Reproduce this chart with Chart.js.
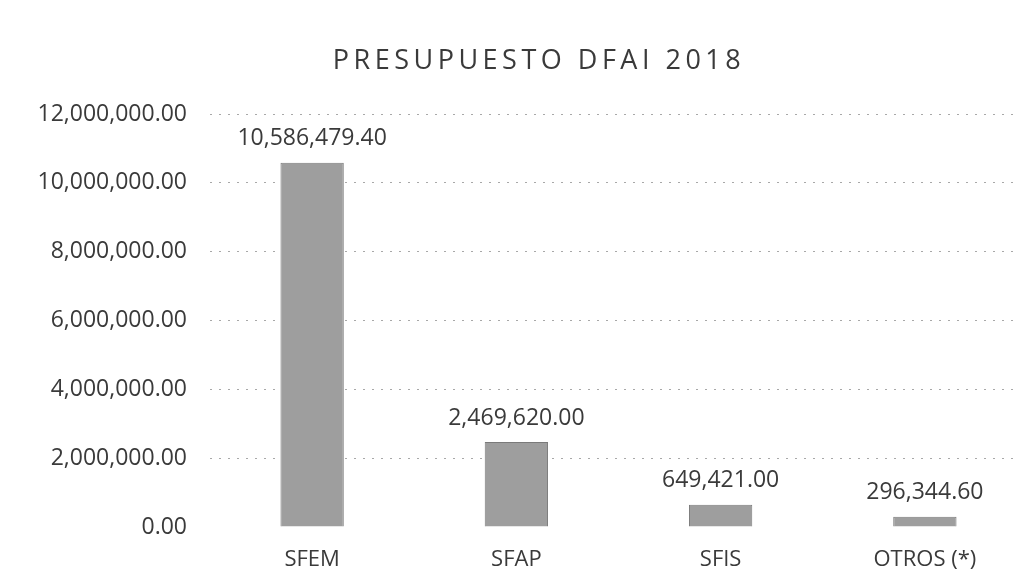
<!DOCTYPE html>
<html>
<head>
<meta charset="utf-8">
<script src="https://cdn.jsdelivr.net/npm/chart.js@4/dist/chart.umd.min.js"></script>
<style>
  html, body { margin: 0; padding: 0; background: #ffffff; overflow: hidden; }
  #wrap { width: 1016px; height: 569px; overflow: hidden; position: relative; background: #fff; }
  canvas { display: block; }
</style>
</head>
<body>
<div id="wrap"><canvas id="c" width="1078" height="569"></canvas></div>
<script>
// ---- data ----
const chartTitle = "PRESUPUESTO DFAI 2018";
const categories = ["SFEM", "SFAP", "SFIS", "OTROS (*)"];
const budgetValues = [10586479.40, 2469620.00, 649421.00, 296344.60];
const yTickValues = [0, 2000000, 4000000, 6000000, 8000000, 10000000, 12000000];

const fmt = v => Number(v).toLocaleString("en-US", { minimumFractionDigits: 2, maximumFractionDigits: 2 });
const FONT = "'Open Sans', 'Noto Sans', sans-serif";
const TEXT = "#3a3a3a";

const spacingPlugin = {
  id: "spacing",
  afterLayout(chart) {
    // let the y-axis label area start at the canvas edge so wide labels are not clipped
    const y = chart.scales.y;
    if (y) { y.left = 0; }
  },
  beforeDraw(chart) { chart.ctx.letterSpacing = "4.5px"; },
  beforeDatasetsDraw(chart) { chart.ctx.letterSpacing = "0px"; },
  afterDraw(chart) { chart.ctx.letterSpacing = "0px"; }
};

const valueLabels = {
  id: "valueLabels",
  afterDatasetsDraw(chart) {
    const ctx = chart.ctx;
    const meta = chart.getDatasetMeta(0);
    ctx.save();
    ctx.font = "23px " + FONT;
    ctx.fillStyle = TEXT;
    ctx.textAlign = "center";
    ctx.textBaseline = "middle";
    meta.data.forEach((bar, i) => {
      ctx.fillText(fmt(chart.data.datasets[0].data[i]), bar.x, bar.y - 24);
    });
    ctx.restore();
  }
};

new Chart(document.getElementById("c"), {
  type: "bar",
  data: {
    labels: categories,
    datasets: [{
      data: budgetValues,
      backgroundColor: "#9e9e9e",
      borderColor: "#7a7a7a",
      borderWidth: 1,
      categoryPercentage: 1.0,
      barPercentage: 0.31
    }]
  },
  options: {
    responsive: false,
    animation: false,
    layout: { padding: { left: 51, right: 51, top: 0, bottom: 0 } },
    plugins: {
      legend: { display: false },
      tooltip: { enabled: false },
      title: {
        display: true,
        text: chartTitle,
        color: TEXT,
        font: { family: FONT, size: 27, weight: "normal" },
        padding: { top: 45, bottom: 36.6 }
      }
    },
    scales: {
      x: {
        grid: { display: false, drawTicks: false },
        border: { display: false },
        ticks: { color: TEXT, font: { family: FONT, size: 22 }, padding: 20, z: 1 },
        afterFit(scale) { scale.height = 42; }
      },
      y: {
        min: 0,
        max: 12000000,
        afterBuildTicks(scale) { scale.ticks = yTickValues.map(v => ({ value: v })); },
        afterFit(scale) { scale.width = 159; },
        grid: {
          drawTicks: false,
          color: ctx => (ctx.tick && ctx.tick.value === 0) ? "rgba(0,0,0,0)" : "#a8a8a8",
          lineWidth: 1
        },
        border: { display: false, dash: [2, 7] },
        ticks: {
          color: TEXT,
          font: { family: FONT, size: 23 },
          padding: 23,
          z: 1,
          callback: v => fmt(v)
        }
      }
    }
  },
  plugins: [spacingPlugin, valueLabels]
});
</script>
</body>
</html>
